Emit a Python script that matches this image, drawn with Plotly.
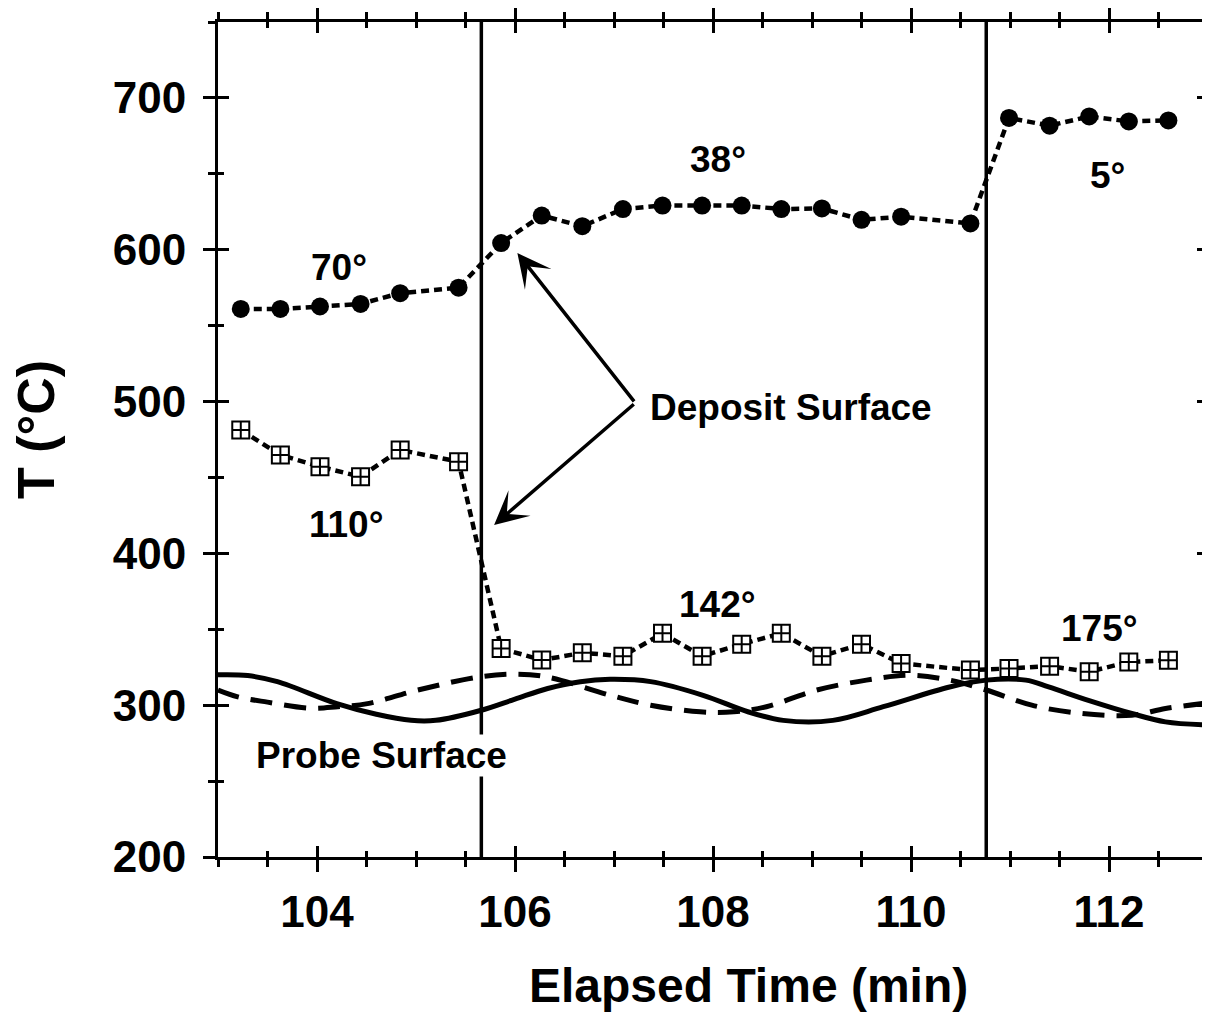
import plotly.graph_objects as go

# ---------------- data ----------------
sample_time = [103.23, 103.63, 104.03, 104.44, 104.84, 105.43, 105.86, 106.27, 106.68,
               107.09, 107.49, 107.89, 108.29, 108.69, 109.10, 109.50, 109.90, 110.60,
               110.99, 111.40, 111.80, 112.20, 112.60]
deposit_upper = [561, 561, 562.6, 564.3, 571.4, 575, 604.4, 622.5, 615.5, 626.8, 629.1,
                 629.1, 629.1, 626.8, 627.2, 619.7, 621.8, 617.3, 686.8, 681.7, 687.8,
                 684.5, 685.2]
deposit_lower = [481.3, 464.8, 457.1, 450.5, 468.1, 460.4, 337.4, 329.7, 334.5, 332.3,
                 347.3, 332.3, 340.2, 347.3, 332.3, 340.2, 327.5, 323.1, 324.2, 325.7,
                 322.0, 328.5, 329.6]

probe_solid_t = [103.0, 103.3, 103.6, 104.2, 104.6, 104.95, 105.2, 105.65, 106.0, 106.33,
                 106.66, 106.96, 107.37, 107.9, 108.36, 108.71, 109.21, 109.72, 110.39,
                 110.76, 111.16, 111.39, 111.8, 112.23, 112.57, 113.0]
probe_solid_T = [320, 319.5, 315.5, 301, 294, 290, 290, 296.5, 304, 311, 315.5, 317, 315.5,
                 306.5, 295.5, 290, 290, 299, 312, 316.5, 316.5, 312, 303, 294.5, 289, 287]

probe_dash_t = [103.0, 103.2, 103.5, 103.94, 104.21, 104.51, 105.02, 105.65, 106.02, 106.33,
                106.96, 107.37, 107.87, 108.21, 108.54, 109.05, 109.55, 109.99, 110.39,
                110.76, 111.22, 111.73, 112.23, 112.57, 113.0]
probe_dash_T = [310, 305.5, 302, 298, 299, 301, 310, 318.7, 320.4, 318.5, 306.6, 300, 295.6,
                295.6, 299, 310, 316.5, 319.8, 316.5, 310, 300, 294.5, 293.4, 297.8, 301.5]

event_times = [105.66, 110.76]

angle_labels = ["70°", "38°", "5°", "110°", "142°", "175°"]
angle_label_t = [104.22, 108.05, 111.98, 104.30, 108.05, 111.90]
angle_label_T = [588, 659.3, 648.8, 418.7, 366, 350.8]

x_range = [103, 113]
y_range = [200, 750]
x_tickvals = [104, 106, 108, 110, 112]
y_tickvals = [200, 300, 400, 500, 600, 700]

FONT = "Liberation Sans, Arial, Helvetica, sans-serif"

fig = go.Figure()

dotted = "8px,5px"

fig.add_trace(go.Scatter(
    x=probe_solid_t, y=probe_solid_T, mode="lines", line_shape="spline",
    line=dict(color="black", width=5), showlegend=False, hoverinfo="skip"))
fig.add_trace(go.Scatter(
    x=probe_dash_t, y=probe_dash_T, mode="lines", line_shape="spline",
    line=dict(color="black", width=5, dash="22px,12px"), showlegend=False, hoverinfo="skip"))

fig.add_trace(go.Scatter(
    x=sample_time, y=deposit_upper, mode="lines+markers",
    line=dict(color="black", width=4.5, dash=dotted),
    marker=dict(symbol="circle", size=18, color="black"), showlegend=False))
fig.add_trace(go.Scatter(
    x=sample_time, y=deposit_lower, mode="lines+markers",
    line=dict(color="black", width=4.5, dash=dotted),
    marker=dict(symbol="square-cross", size=17, color="white",
                line=dict(color="black", width=2)), showlegend=False))

# invisible trace so the overlay axes (for the crossing tick marks) are drawn
fig.add_trace(go.Scatter(x=x_range, y=y_range, xaxis="x2", yaxis="y2", mode="markers",
                         marker=dict(opacity=0), showlegend=False, hoverinfo="skip"))

for t in event_times:
    fig.add_shape(type="line", x0=t, x1=t, y0=y_range[0], y1=y_range[1],
                  xref="x", yref="y", line=dict(color="black", width=3.5), layer="below")

ann_font = dict(family=FONT, size=37, color="black", weight="bold")
for txt, tx, ty in zip(angle_labels, angle_label_t, angle_label_T):
    fig.add_annotation(x=tx, y=ty, text=txt, showarrow=False, font=ann_font,
                       xanchor="center", yanchor="middle")

fig.add_annotation(x=104.65, y=267.1, text="Probe Surface", showarrow=False,
                   font=ann_font, bgcolor="white", borderpad=0)
fig.add_annotation(x=107.34, y=496.4, text="Deposit Surface", showarrow=False,
                   font=ann_font, xanchor="left", yanchor="middle")

for hx, hy in [(106.024, 597.8), (105.789, 418.7)]:
    fig.add_annotation(x=hx, y=hy, ax=107.215, ay=499.1, xref="x", yref="y",
                       axref="x", ayref="y", text="", showarrow=True,
                       arrowhead=3, arrowsize=1.6, arrowwidth=3.5, arrowcolor="black",
                       standoff=0, startstandoff=0)

tick_font = dict(family=FONT, size=44, color="black", weight="bold")
title_font = dict(family=FONT, size=48, color="black", weight="bold")

# axis titles (placed as paper annotations to match the original positions)
fig.add_annotation(x=0.536, y=-0.1533, xref="paper", yref="paper", text="Elapsed Time (min)",
                   showarrow=False, font=title_font, xanchor="center", yanchor="middle")
fig.add_annotation(x=-0.1838, y=0.5114, xref="paper", yref="paper", text="T (°C)",
                   textangle=-90, showarrow=False,
                   font=dict(family=FONT, size=52, color="black", weight="bold"),
                   xanchor="center", yanchor="middle")

fig.update_layout(
    width=1210, height=1017,
    margin=dict(l=210, r=10, t=14, b=168),
    paper_bgcolor="white", plot_bgcolor="white",
    xaxis=dict(range=x_range, tickvals=x_tickvals, ticks="outside", ticklen=12, tickwidth=3,
               tickcolor="black", showline=True, linewidth=3, linecolor="black",
               mirror="ticks", showgrid=False, zeroline=False, tickfont=tick_font,
               ticklabelstandoff=2, automargin=False,
               minor=dict(dtick=0.5, tick0=103, ticks="outside", ticklen=7, tickwidth=3,
                          tickcolor="black", showgrid=False)),
    yaxis=dict(range=y_range, tickvals=y_tickvals, ticks="outside", ticklen=12, tickwidth=3,
               tickcolor="black", showline=True, linewidth=3, linecolor="black",
               mirror="ticks", showgrid=False, zeroline=False, tickfont=tick_font,
               ticklabelstandoff=8, automargin=False,
               minor=dict(dtick=50, tick0=200, ticks="outside", ticklen=7, tickwidth=3,
                          tickcolor="black", showgrid=False)),
    xaxis2=dict(range=x_range, overlaying="x", anchor="y2", side="bottom",
                tickvals=x_tickvals, ticks="inside", ticklen=11, tickwidth=3,
                tickcolor="black", mirror="ticks", showline=False, showgrid=False,
                zeroline=False, showticklabels=False, automargin=False,
                minor=dict(dtick=0.5, tick0=103, ticks="inside", ticklen=6, tickwidth=3,
                           tickcolor="black", showgrid=False)),
    yaxis2=dict(range=y_range, overlaying="y", anchor="x2", side="left",
                tickvals=y_tickvals, ticks="inside", ticklen=11, tickwidth=3,
                tickcolor="black", mirror="ticks", showline=False, showgrid=False,
                zeroline=False, showticklabels=False, automargin=False,
                minor=dict(dtick=50, tick0=200, ticks="inside", ticklen=6, tickwidth=3,
                           tickcolor="black", showgrid=False)),
    showlegend=False,
)

fig.write_html("out.html")
